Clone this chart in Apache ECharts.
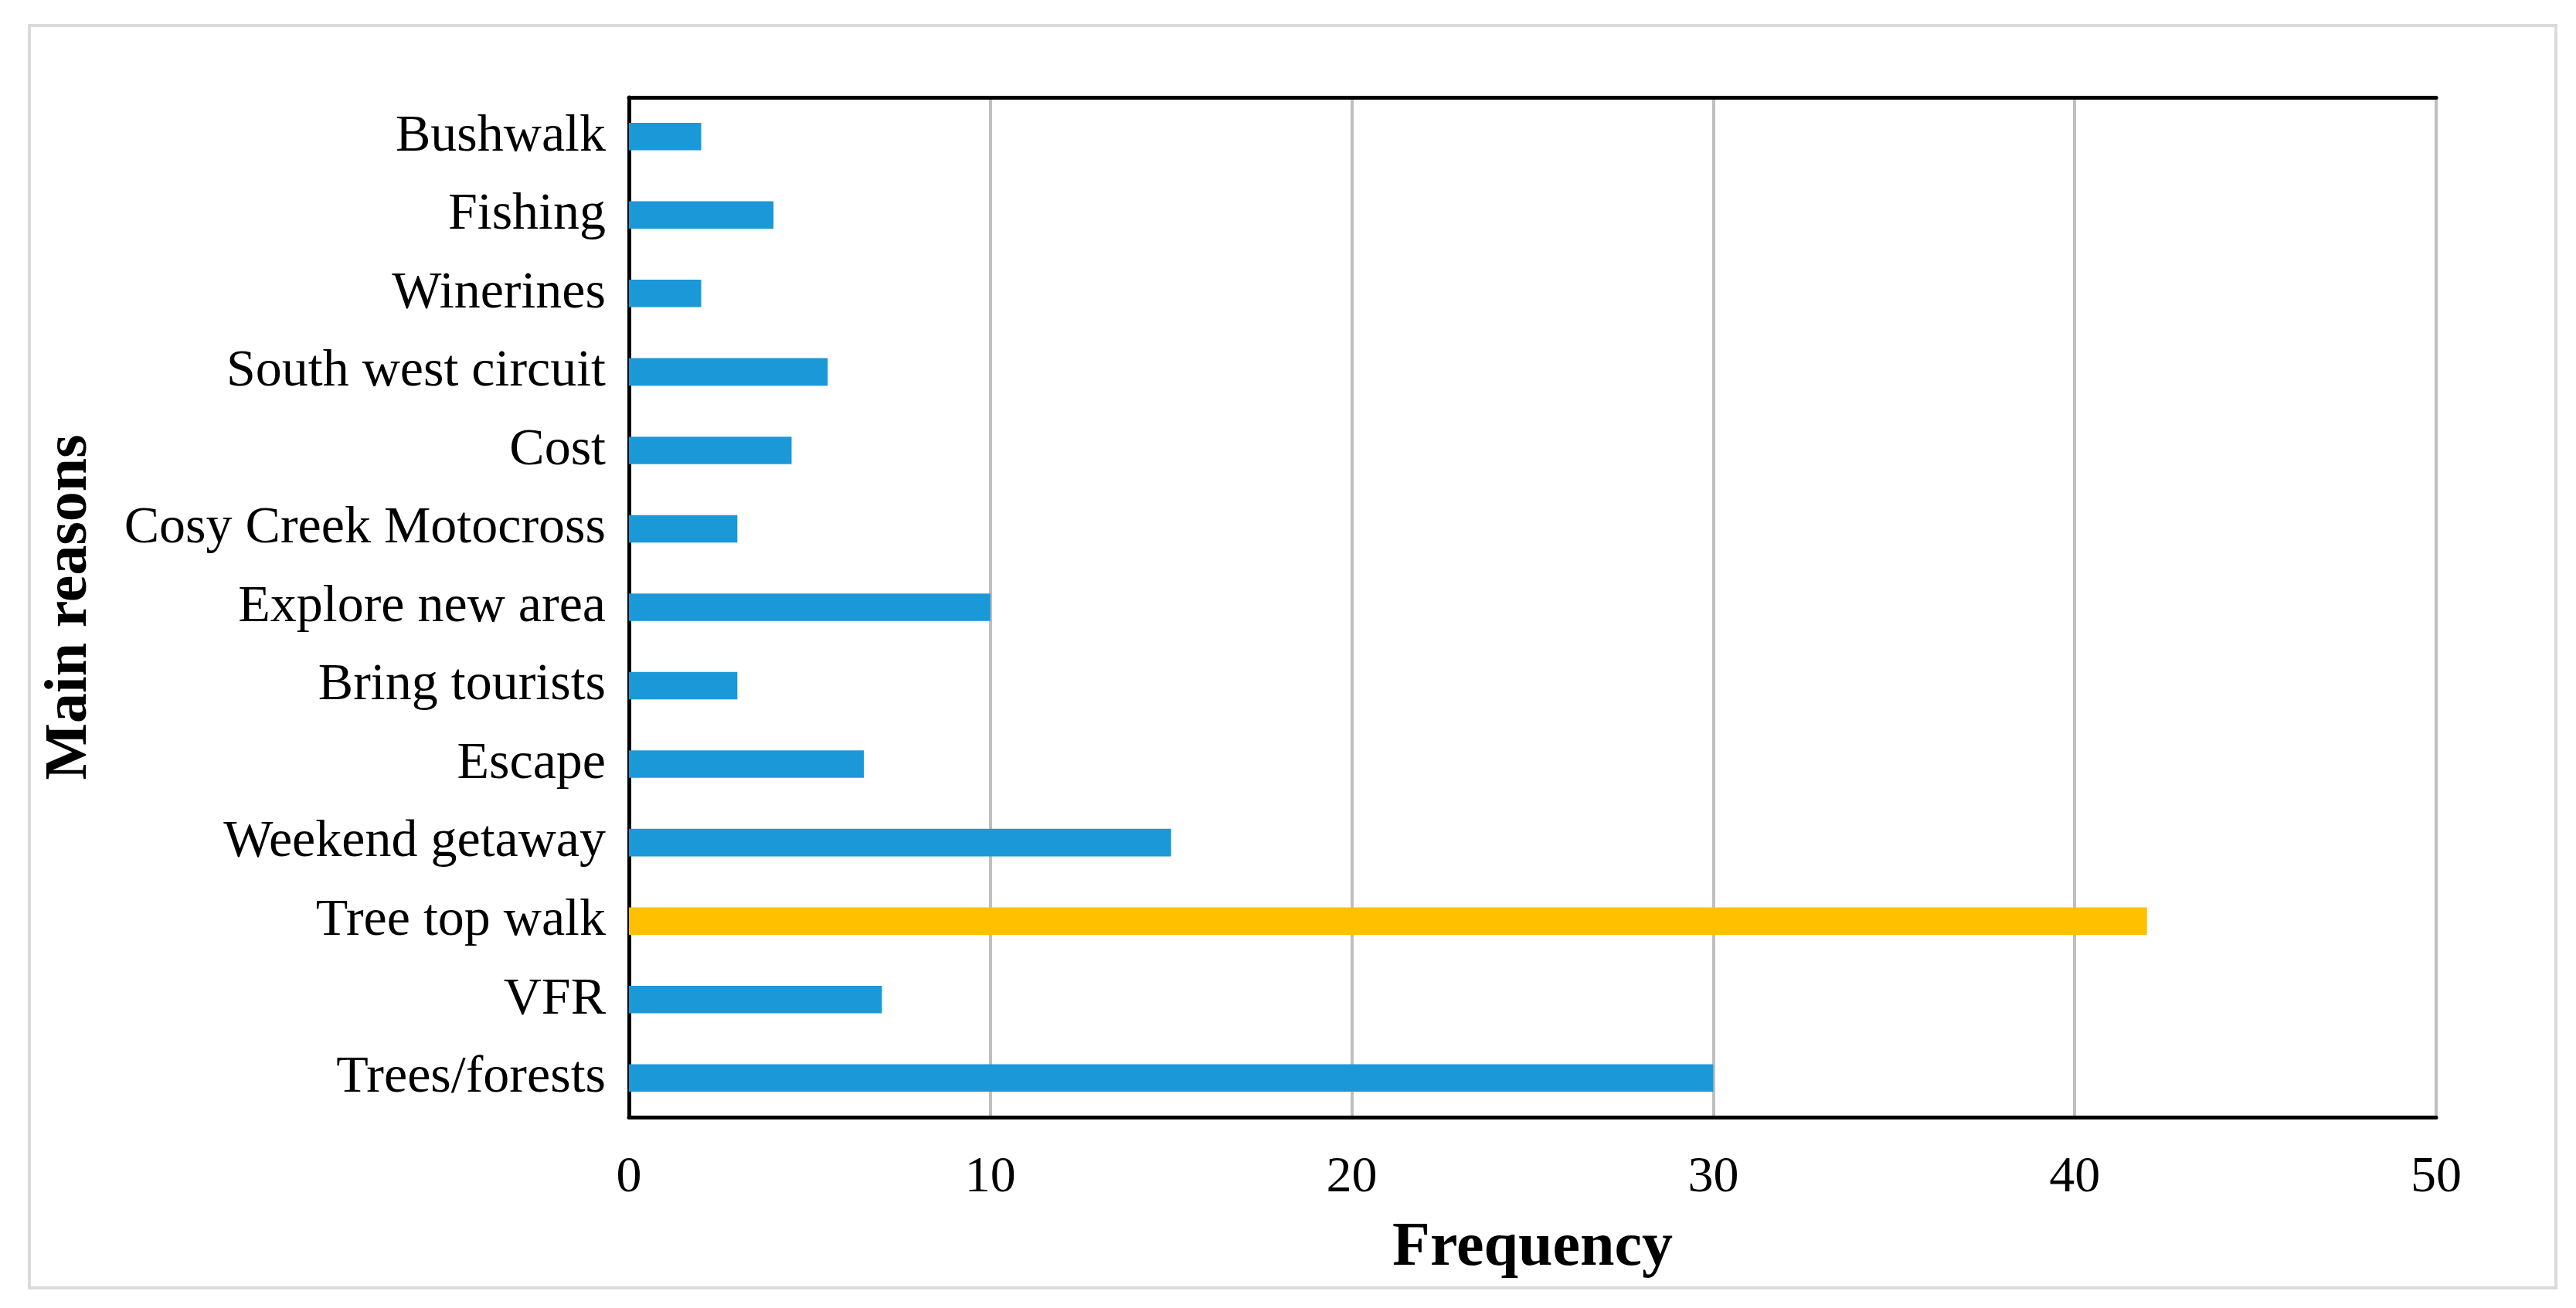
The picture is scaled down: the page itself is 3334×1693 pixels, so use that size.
<!DOCTYPE html>
<html>
<head>
<meta charset="utf-8">
<script src="https://cdn.jsdelivr.net/npm/echarts@6/dist/echarts.min.js"></script>
<style>
  html, body { margin: 0; padding: 0; background: #ffffff; }
  #chart { position: absolute; left: 0; top: 0; width: 3334px; height: 1693px; }
  #frame { position: absolute; left: 36px; top: 31px; width: 3266px; height: 1630px; border: 4px solid #dadada; pointer-events: none; }
</style>
</head>
<body>
<div id="frame"></div>
<div id="chart"></div>
<script>
// Categories listed top to bottom as they appear in the chart
const categories = [
  'Bushwalk', 'Fishing', 'Winerines', 'South west circuit', 'Cost',
  'Cosy Creek Motocross', 'Explore new area', 'Bring tourists', 'Escape',
  'Weekend getaway', 'Tree top walk', 'VFR', 'Trees/forests'
];
const frequency = [2, 4, 2, 5.5, 4.5, 3, 10, 3, 6.5, 15, 42, 7, 30];
const highlighted = 'Tree top walk';
const xTicks = [0, 10, 20, 30, 40, 50];

const BLUE = '#1a98d8';
const GOLD = '#ffc000';
const FONT = '"Liberation Serif", "Times New Roman", serif';

const chart = echarts.init(document.getElementById('chart'), null, { renderer: 'canvas' });

const seriesData = categories.map((c, i) => ({
  value: frequency[i],
  itemStyle: { color: c === highlighted ? GOLD : BLUE }
}));

chart.setOption({
  animation: false,
  backgroundColor: 'transparent',
  grid: { left: 814, right: 181, top: 126, bottom: 247, containLabel: false },
  xAxis: [
    {
      type: 'value',
      position: 'bottom',
      min: xTicks[0],
      max: xTicks[xTicks.length - 1],
      interval: xTicks[1] - xTicks[0],
      name: 'Frequency',
      nameLocation: 'middle',
      nameGap: 130,
      nameTextStyle: { fontFamily: FONT, fontWeight: 'bold', fontSize: 80, color: '#000' },
      axisLine: { show: true, lineStyle: { color: '#000', width: 5 } },
      axisTick: { show: false },
      axisLabel: { fontFamily: FONT, fontSize: 66, color: '#000', margin: 46 },
      splitLine: { show: true, lineStyle: { color: '#bfbfbf', width: 4 } }
    },
    {
      type: 'value',
      position: 'top',
      min: xTicks[0],
      max: xTicks[xTicks.length - 1],
      interval: xTicks[1] - xTicks[0],
      axisLine: { show: true, lineStyle: { color: '#000', width: 5 } },
      axisTick: { show: false },
      axisLabel: { show: false },
      splitLine: { show: false }
    }
  ],
  yAxis: [
    {
      type: 'category',
      position: 'left',
      inverse: true,
      data: categories,
      name: 'Main reasons',
      nameLocation: 'middle',
      nameRotate: 90,
      nameGap: 684,
      nameTextStyle: { fontFamily: FONT, fontWeight: 'bold', fontSize: 78, color: '#000' },
      axisLine: { show: true, lineStyle: { color: '#7f7f7f', width: 4 } },
      axisTick: { show: false },
      axisLabel: { fontFamily: FONT, fontSize: 68, color: '#000', margin: 30 },
      splitLine: { show: false }
    },
    {
      type: 'category',
      position: 'right',
      inverse: true,
      data: categories,
      axisLine: { show: true, lineStyle: { color: '#000', width: 5 } },
      axisTick: { show: false },
      axisLabel: { show: false },
      splitLine: { show: false }
    }
  ],
  series: [
    {
      type: 'bar',
      xAxisIndex: 0,
      yAxisIndex: 0,
      barWidth: '35%',
      data: seriesData,
      z: 3
    }
  ]
});
</script>
</body>
</html>
